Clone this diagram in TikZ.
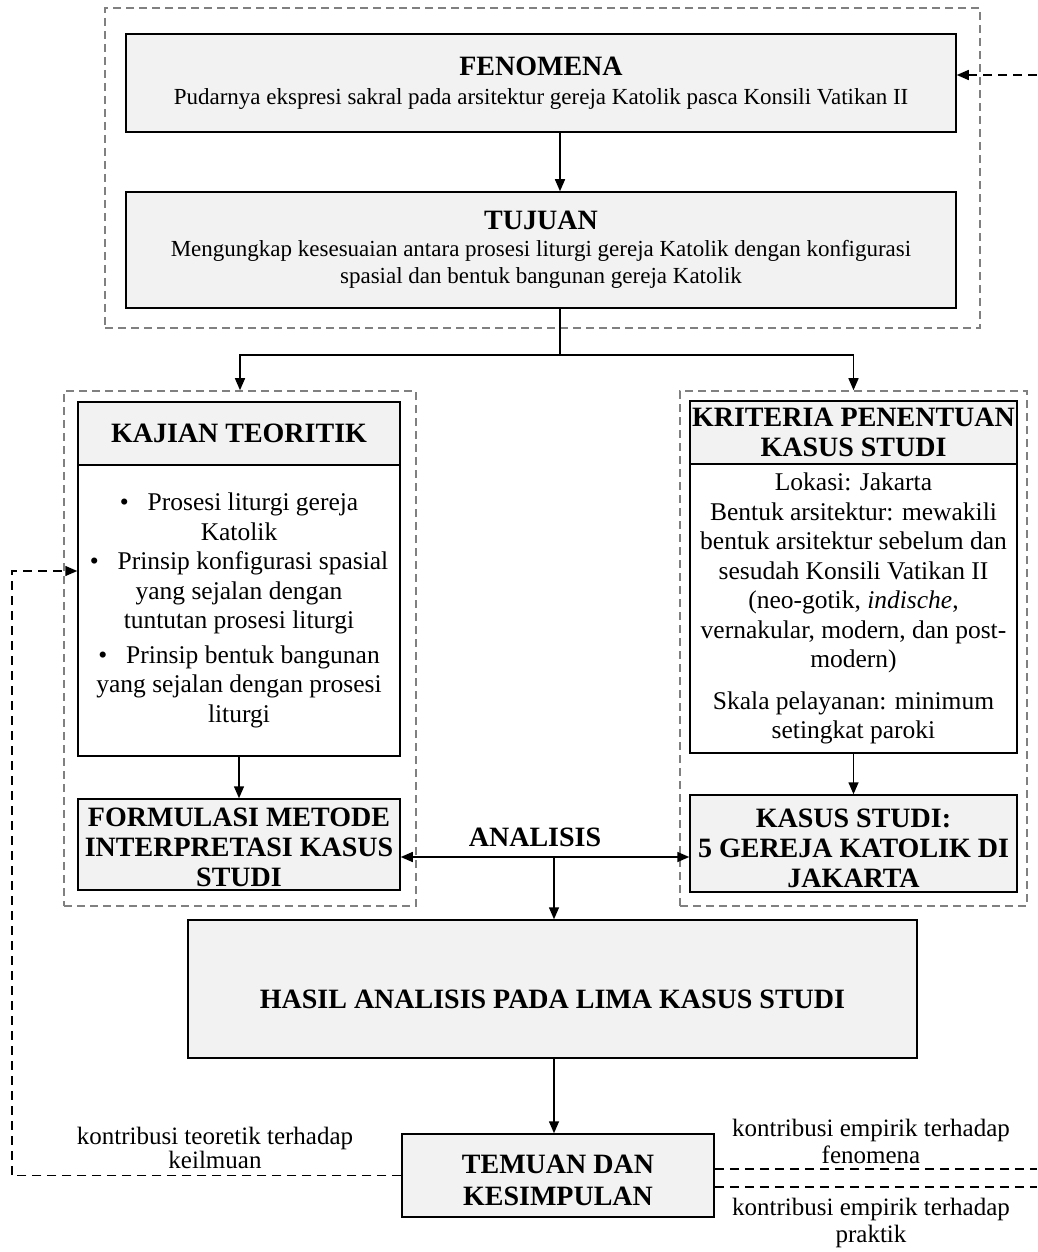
\documentclass[tikz,border=0pt]{standalone}
\usepackage{fontspec}
\setmainfont{Liberation Serif}
\usetikzlibrary{arrows.meta}
\definecolor{boxgray}{HTML}{F2F2F2}
\definecolor{grpgray}{HTML}{808080}
\newcommand{\hdrfont}{\fontsize{28}{30}\selectfont\bfseries}
\newcommand{\hdrfontb}{\fontsize{28}{32}\selectfont\bfseries}
\newcommand{\topfont}{\fontsize{23}{27}\selectfont}
\newcommand{\sidefont}{\fontsize{25.5}{29.5}\selectfont}
\newcommand{\lblfont}{\fontsize{25}{27}\selectfont}
\newcommand{\lblfontb}{\fontsize{25}{24}\selectfont}
\newcommand{\blt}{\textbullet\hspace{19pt}}
\newcommand{\dn}[2]{\raisebox{-#1}[0pt][0pt]{\begin{tabular}{@{}c@{}}#2\end{tabular}}}
\begin{document}
\begin{tikzpicture}[x=1pt,y=-1pt,
  boxnode/.style={draw=black, line width=1.5pt, fill=boxgray, align=center, inner sep=1pt},
  bodynode/.style={draw=black, line width=1.5pt, fill=white, align=center, inner sep=1pt},
  grpnode/.style={draw=grpgray, line width=1.6pt, dash pattern=on 8pt off 5pt, inner sep=0pt},
  conn/.style={line width=1.5pt},
  arr/.style={line width=1.5pt, -{Triangle[length=12pt,width=10pt]}},
  arrboth/.style={line width=1.5pt, {Triangle[length=12pt,width=10pt]}-{Triangle[length=12pt,width=10pt]}},
  fbline/.style={line width=1.5pt, dash pattern=on 9pt off 6pt},
  fbarr/.style={line width=1.5pt, dash pattern=on 9pt off 6pt, -{Triangle[length=12pt,width=10pt]}},
  lbl/.style={align=center, inner sep=0pt, font=\lblfont}
]
\useasboundingbox (0,0) rectangle (1037,1252);

% groups
\node[grpnode, minimum width=875pt, minimum height=320pt] (gTop) at (542.5,168) {};
\node[grpnode, minimum width=352pt, minimum height=515pt] (gL) at (240,648.5) {};
\node[grpnode, minimum width=347pt, minimum height=515pt] (gR) at (853.5,648.5) {};

% top boxes
\node[boxnode, minimum width=830pt, minimum height=98pt, font=\topfont] (fen) at (541,83)
  {{\hdrfont FENOMENA}\\[2pt]Pudarnya ekspresi sakral pada arsitektur gereja Katolik pasca Konsili Vatikan II};
\node[boxnode, minimum width=830pt, minimum height=116pt, font=\topfont] (tuj) at (541,250)
  {{\hdrfont TUJUAN}\\Mengungkap kesesuaian antara prosesi liturgi gereja Katolik dengan konfigurasi\\spasial dan bentuk bangunan gereja Katolik};

% left column
\node[boxnode, minimum width=322pt, minimum height=63pt, font=\hdrfont] (kajH) at (239,433.5) {KAJIAN TEORITIK};
\node[bodynode, minimum width=322pt, minimum height=291pt, font=\sidefont] (kajB) at (239,610.5)
  {\blt Prosesi liturgi gereja\\Katolik\\\blt Prinsip konfigurasi spasial\\yang sejalan dengan\\tuntutan prosesi liturgi\\[5pt]\blt Prinsip bentuk bangunan\\yang sejalan dengan prosesi\\liturgi};
\node[boxnode, minimum width=322pt, minimum height=91pt, font=\hdrfont] (form) at (239,844.5)
  {\dn{12pt}{FORMULASI METODE\\INTERPRETASI KASUS\\STUDI}};

% right column
\node[boxnode, minimum width=327pt, minimum height=63pt, font=\hdrfont] (kriH) at (853.5,432.5)
  {KRITERIA PENENTUAN\\KASUS STUDI};
\node[bodynode, minimum width=327pt, minimum height=289pt, font=\sidefont] (kriB) at (853.5,608.5)
  {Lokasi: Jakarta\\Bentuk arsitektur: mewakili\\bentuk arsitektur sebelum dan\\sesudah Konsili Vatikan II\\(neo-gotik, \textit{indische},\\vernakular, modern, dan post-\\modern)\\[12pt]Skala pelayanan: minimum\\setingkat paroki};
\node[boxnode, minimum width=327pt, minimum height=97pt, font=\hdrfont] (kasus) at (853.5,843.5)
  {\dn{14pt}{KASUS STUDI:\\5 GEREJA KATOLIK DI\\JAKARTA}};

% bottom
\node[boxnode, minimum width=729pt, minimum height=138pt, font=\hdrfont] (hasil) at (552.5,989)
  {\dn{20pt}{HASIL ANALISIS PADA LIMA KASUS STUDI}};
\node[boxnode, minimum width=312pt, minimum height=83pt, font=\hdrfontb] (tem) at (558,1175.5)
  {\dn{14pt}{TEMUAN DAN\\KESIMPULAN}};

\node[anchor=base, inner sep=0pt, font=\hdrfont] (anl) at (535,846) {ANALISIS};

% labels
\node[lbl, font=\lblfontb] (lblL) at (215,1148) {kontribusi teoretik terhadap\\keilmuan};
\node[lbl] (lblR1) at (871,1141) {kontribusi empirik terhadap\\fenomena};
\node[lbl] (lblR2) at (871,1223) {kontribusi empirik terhadap\\praktik};

% coordinates
\coordinate (xm) at (560,0);
\coordinate (br) at (560,355);
\coordinate (an) at (554,857);
\coordinate (fbTop) at (1037,75);
\coordinate (fbL) at (12,571);
\coordinate (fbR1) at (1037,1169);
\coordinate (fbR2) at (1037,1187);

% connectors
\draw[arr] (fen.south -| xm) -- (tuj.north -| xm);
\draw[conn] (tuj.south -| xm) -- (br);
\draw[arr] (br) -| (gL.north);
\draw[arr] (br) -| (gR.north);
\draw[arr] (kajB.south) -- (form.north);
\draw[arr] (kriB.south) -- (kasus.north);
\draw[arrboth] (form.east |- an) -- (kasus.west |- an);
\draw[arr] (an) -- (hasil.north -| an);
\draw[arr] (hasil.south -| an) -- (tem.north -| an);

% feedback
\draw[fbarr] (fbTop) -- (fen.east |- fbTop);
\draw[fbarr] (tem.west) -| (fbL) -- (kajB.west |- fbL);
\draw[fbline] (tem.east |- fbR1) -- (fbR1);
\draw[fbline] (tem.east |- fbR2) -- (fbR2);
\end{tikzpicture}
\end{document}
